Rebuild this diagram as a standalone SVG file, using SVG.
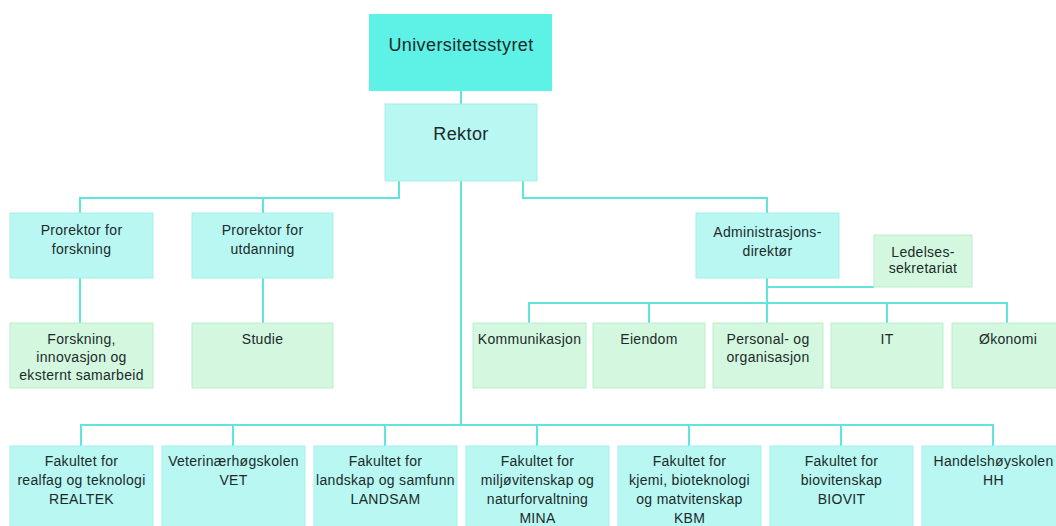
<svg xmlns="http://www.w3.org/2000/svg" width="1056" height="526" viewBox="0 0 1056 526">
<style>
.top{fill:#5ef1e6}
.c{fill:#b8f7f2;stroke:#a6efe9;stroke-width:1}
.g{fill:#d4f7df;stroke:#bdeecb;stroke-width:1}
text{font-family:"Liberation Sans",Arial,sans-serif;fill:#1c2a2a;text-anchor:middle}
.s{font-size:14px;letter-spacing:0.3px}
.b{font-size:18px;letter-spacing:0.4px}
#connectors path{fill:none;stroke:#5fe6dc;stroke-width:2}
</style>
<rect width="1056" height="526" fill="#ffffff"/>
<g id="connectors">
<path d="M461 91V104"/>
<path d="M461 181V425"/>
<path d="M399 181V198H80V213"/>
<path d="M263 198V213"/>
<path d="M523 181V198H767V213"/>
<path d="M80 277V323"/>
<path d="M263 277V323"/>
<path d="M767 277V303"/>
<path d="M767 287H874"/>
<path d="M529 323V303H1007V323"/>
<path d="M649 303V323"/>
<path d="M767 303V323"/>
<path d="M887 303V323"/>
<path d="M81 446V425H993V446"/>
<path d="M233 425V446"/>
<path d="M385 425V446"/>
<path d="M537 425V446"/>
<path d="M689 425V446"/>
<path d="M841 425V446"/>
</g>
<g id="universitetsstyret"><rect class="top" x="369" y="14" width="183" height="77"/><text class="b" x="461" y="51">Universitetsstyret</text></g>
<g id="rektor"><rect class="c" x="385" y="104" width="152" height="77"/><text class="b" x="461" y="140">Rektor</text></g>
<g id="prorektor-forskning"><rect class="c" x="10" y="213" width="143" height="65"/><text class="s" x="81.5" y="235">Prorektor for</text><text class="s" x="81.5" y="254">forskning</text></g>
<g id="prorektor-utdanning"><rect class="c" x="192" y="213" width="141" height="65"/><text class="s" x="262.5" y="235">Prorektor for</text><text class="s" x="262.5" y="254">utdanning</text></g>
<g id="administrasjonsdirektor"><rect class="c" x="696" y="213" width="143" height="65"/><text class="s" x="767.5" y="237">Administrasjons-</text><text class="s" x="767.5" y="256">direktør</text></g>
<g id="ledelsessekretariat"><rect class="g" x="874" y="235" width="98" height="52"/><text class="s" x="923" y="257">Ledelses-</text><text class="s" x="923" y="273">sekretariat</text></g>
<g id="forskning"><rect class="g" x="10" y="323" width="143" height="65"/><text class="s" x="81.5" y="344">Forskning,</text><text class="s" x="81.5" y="362">innovasjon og</text><text class="s" x="81.5" y="380">eksternt samarbeid</text></g>
<g id="studie"><rect class="g" x="192" y="323" width="141" height="65"/><text class="s" x="262.5" y="344">Studie</text></g>
<g id="kommunikasjon"><rect class="g" x="473" y="323" width="113" height="65"/><text class="s" x="529.5" y="344">Kommunikasjon</text></g>
<g id="eiendom"><rect class="g" x="593" y="323" width="112" height="65"/><text class="s" x="649" y="344">Eiendom</text></g>
<g id="personal"><rect class="g" x="713" y="323" width="110" height="65"/><text class="s" x="768" y="344">Personal- og</text><text class="s" x="768" y="362">organisasjon</text></g>
<g id="it"><rect class="g" x="831" y="323" width="112" height="65"/><text class="s" x="887" y="344">IT</text></g>
<g id="okonomi"><rect class="g" x="952" y="323" width="113" height="65"/><text class="s" x="1008" y="344">Økonomi</text></g>
<g id="realtek"><rect class="c" x="10" y="446" width="143" height="90"/><text class="s" x="81.5" y="466">Fakultet for</text><text class="s" x="81.5" y="485">realfag og teknologi</text><text class="s" x="81.5" y="504">REALTEK</text></g>
<g id="vet"><rect class="c" x="162" y="446" width="143" height="90"/><text class="s" x="233.5" y="466">Veterinærhøgskolen</text><text class="s" x="233.5" y="485">VET</text></g>
<g id="landsam"><rect class="c" x="314" y="446" width="143" height="90"/><text class="s" x="385.5" y="466">Fakultet for</text><text class="s" x="385.5" y="485">landskap og samfunn</text><text class="s" x="385.5" y="504">LANDSAM</text></g>
<g id="mina"><rect class="c" x="466" y="446" width="143" height="90"/><text class="s" x="537.5" y="466">Fakultet for</text><text class="s" x="537.5" y="485">miljøvitenskap og</text><text class="s" x="537.5" y="504">naturforvaltning</text><text class="s" x="537.5" y="523">MINA</text></g>
<g id="kbm"><rect class="c" x="618" y="446" width="143" height="90"/><text class="s" x="689.5" y="466">Fakultet for</text><text class="s" x="689.5" y="485">kjemi, bioteknologi</text><text class="s" x="689.5" y="504">og matvitenskap</text><text class="s" x="689.5" y="523">KBM</text></g>
<g id="biovit"><rect class="c" x="770" y="446" width="143" height="90"/><text class="s" x="841.5" y="466">Fakultet for</text><text class="s" x="841.5" y="485">biovitenskap</text><text class="s" x="841.5" y="504">BIOVIT</text></g>
<g id="hh"><rect class="c" x="922" y="446" width="143" height="90"/><text class="s" x="993.5" y="466">Handelshøyskolen</text><text class="s" x="993.5" y="485">HH</text></g>
</svg>
